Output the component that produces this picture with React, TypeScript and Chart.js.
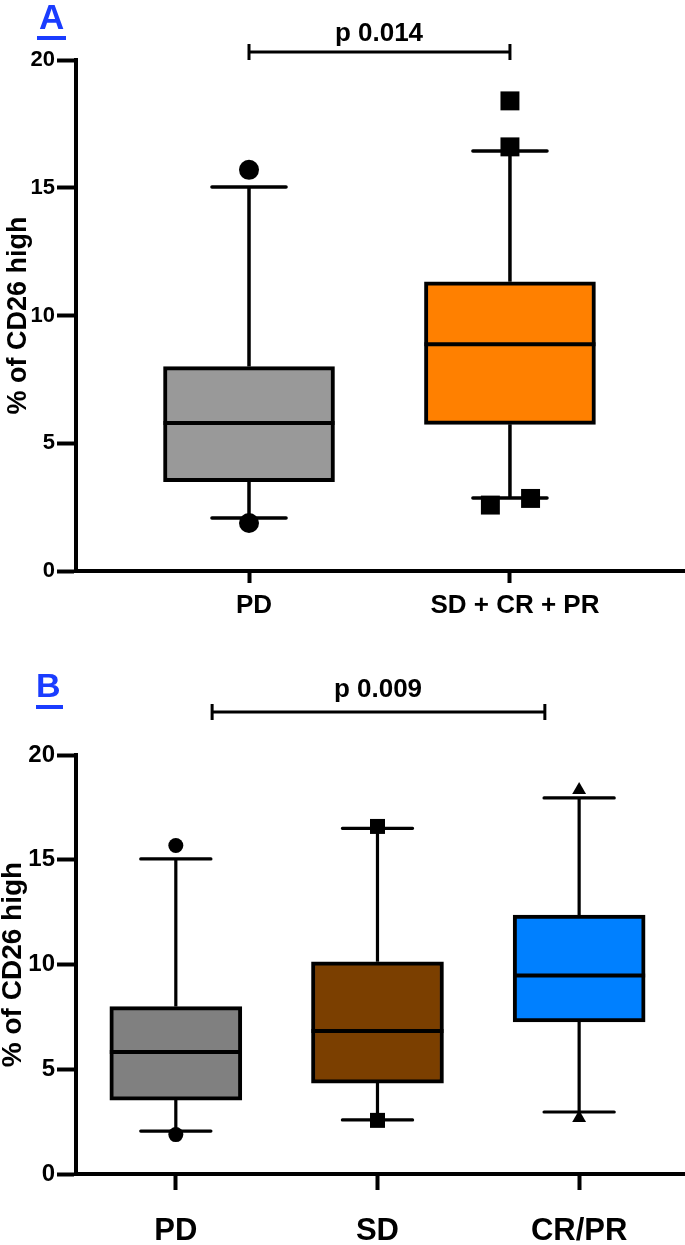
import React, { useEffect, useRef } from 'react';
import { Chart, registerables } from 'chart.js';

Chart.register(...registerables);

const FONT = '"Liberation Sans", Arial, Helvetica, sans-serif';
const BLUE = '#1a3cff';

// ---------- Panel A data ----------
const catsA = ['PD', 'SD + CR + PR'];
const q1A = [3.5, 5.74];
const medA = [5.79, 8.87];
const q3A = [8.0, 11.32];
const loA = [2.07, 2.86];
const hiA = [15.03, 16.44];
const colorsA = ['#999999', '#FF8000'];
const outlierPdA = [15.7, 1.88];
const outlierGrpA = [18.4, 16.6, 2.58, 2.84];
const outlierGrpJitterA = [0, 0, -0.075, 0.079];
const pValueA = 'p 0.014';

// ---------- Panel B data ----------
const catsB = ['PD', 'SD', 'CR/PR'];
const q1B = [3.53, 4.34, 7.26];
const medB = [5.82, 6.83, 9.48];
const q3B = [7.99, 10.13, 12.36];
const loB = [2.05, 2.58, 2.96];
const hiB = [15.04, 16.5, 17.95];
const colorsB = ['#808080', '#7B3F00', '#0080FF'];
const outlierPdB = [15.68, 1.88];
const outlierSdB = [16.59, 2.56];
const outlierCrB = [18.33, 2.67];
const pValueB = 'p 0.009';

const yTickValues = [0, 5, 10, 15, 20];
const yTitle = '% of CD26 high';

type Spec = {
  cats: string[];
  q1: number[];
  med: number[];
  q3: number[];
  lo: number[];
  hi: number[];
  colors: string[];
  outliers: { data: { x: number; y: number }[]; style: string; r: number }[];
  xMin: number;
  xMax: number;
  barPx: number;
  capHalf: number;
  boxW: number;
  whiskerW: number;
  padTop: number;
  xAxisH: number;
  xTickLen: number;
  catFont: number;
  catPad: number;
  catOffset: number;
  yFont: number;
  titleFont: number;
  titleLH: number;
  titlePad: number;
  bracket: { from: number; to: number; py: number };
};

function makePlugin(s: Spec) {
  return {
    id: 'boxWhisker',
    beforeDatasetsDraw(chart: any) {
      const { ctx } = chart;
      const x = chart.scales.x;
      const y = chart.scales.y;
      ctx.save();
      ctx.strokeStyle = '#000';
      s.cats.forEach((_, i) => {
        const px = x.getPixelForValue(i + 1);
        ctx.lineWidth = s.whiskerW;
        ctx.lineCap = 'butt';
        ctx.beginPath();
        ctx.moveTo(px, y.getPixelForValue(s.q3[i]));
        ctx.lineTo(px, y.getPixelForValue(s.hi[i]));
        ctx.moveTo(px, y.getPixelForValue(s.q1[i]));
        ctx.lineTo(px, y.getPixelForValue(s.lo[i]));
        ctx.stroke();
        ctx.lineCap = 'round';
        const cl = x.getPixelForValue(i + 1 - s.capHalf);
        const cr = x.getPixelForValue(i + 1 + s.capHalf);
        ctx.beginPath();
        [s.hi[i], s.lo[i]].forEach((v) => {
          const py = y.getPixelForValue(v);
          ctx.moveTo(cl, py);
          ctx.lineTo(cr, py);
        });
        ctx.stroke();
      });
      // significance bracket
      const bl = x.getPixelForValue(s.bracket.from);
      const br = x.getPixelForValue(s.bracket.to);
      const by = s.bracket.py;
      ctx.lineWidth = 3;
      ctx.lineCap = 'butt';
      ctx.beginPath();
      ctx.moveTo(bl, by);
      ctx.lineTo(br, by);
      ctx.moveTo(bl, by - 8);
      ctx.lineTo(bl, by + 8);
      ctx.moveTo(br, by - 8);
      ctx.lineTo(br, by + 8);
      ctx.stroke();
      ctx.restore();
    },
    afterDatasetsDraw(chart: any) {
      const { ctx } = chart;
      const y = chart.scales.y;
      let barMeta: any = null;
      chart.data.datasets.forEach((d: any, i: number) => {
        if (d.type === 'bar') barMeta = chart.getDatasetMeta(i);
      });
      if (!barMeta) return;
      ctx.save();
      ctx.strokeStyle = '#000';
      ctx.lineWidth = s.boxW;
      ctx.lineCap = 'butt';
      s.cats.forEach((_, i) => {
        const el = barMeta.data[i];
        const { x: bx, width } = el.getProps(['x', 'width'], true);
        const py = y.getPixelForValue(s.med[i]);
        ctx.beginPath();
        ctx.moveTo(bx - width / 2, py);
        ctx.lineTo(bx + width / 2, py);
        ctx.stroke();
      });
      ctx.restore();
    },
  };
}

function makeConfig(s: Spec): any {
  const scatterSets = s.outliers.map((o) => ({
    type: 'scatter',
    data: o.data,
    pointStyle: o.style,
    pointRadius: o.r,
    pointHoverRadius: o.r,
    backgroundColor: '#000',
    borderColor: '#000',
    borderWidth: 0,
    order: 0,
  }));
  return {
    type: 'bar',
    data: {
      datasets: [
        ...scatterSets,
        {
          type: 'bar',
          data: s.cats.map((_, i) => ({ x: i + 1, y: [s.q1[i], s.q3[i]] })),
          backgroundColor: s.colors,
          borderColor: '#000',
          borderWidth: s.boxW,
          borderSkipped: false,
          barThickness: s.barPx,
          order: 1,
        },
      ],
    },
    options: {
      responsive: false,
      animation: false,
      devicePixelRatio: 1,
      events: [],
      layout: { autoPadding: false, padding: { top: s.padTop, right: 1, left: 0, bottom: 0 } },
      plugins: {
        legend: { display: false },
        tooltip: { enabled: false },
        title: { display: false },
      },
      scales: {
        x: {
          type: 'linear',
          min: s.xMin,
          max: s.xMax,
          offset: false,
          afterBuildTicks: (sc: any) => {
            sc.ticks = s.cats.map((_, i) => ({ value: i + 1 }));
          },
          afterFit: (sc: any) => {
            sc.height = s.xAxisH;
            sc.paddingLeft = 0;
            sc.paddingRight = 0;
          },
          ticks: {
            autoSkip: false,
            maxRotation: 0,
            minRotation: 0,
            color: '#000',
            padding: s.catPad,
            labelOffset: s.catOffset,
            font: { family: FONT, size: s.catFont, weight: 'bold' },
            callback: (v: number) => s.cats[Math.round(v) - 1] ?? '',
          },
          grid: {
            display: true,
            offset: false,
            drawOnChartArea: false,
            drawTicks: true,
            tickLength: s.xTickLen,
            tickWidth: 4,
            tickColor: '#000',
          },
          border: { display: true, color: '#000', width: 4 },
        },
        y: {
          type: 'linear',
          min: 0,
          max: 20,
          afterBuildTicks: (sc: any) => {
            sc.ticks = yTickValues.map((v) => ({ value: v }));
          },
          afterFit: (sc: any) => {
            sc.width = 76;
          },
          ticks: {
            color: '#000',
            padding: 2,
            font: { family: FONT, size: s.yFont, weight: 'bold' },
          },
          grid: {
            display: true,
            drawOnChartArea: false,
            drawTicks: true,
            tickLength: 19,
            tickWidth: 4,
            tickColor: '#000',
          },
          border: { display: true, color: '#000', width: 4 },
          title: {
            display: true,
            text: yTitle,
            color: '#000',
            font: { family: FONT, size: s.titleFont, weight: 'bold', lineHeight: s.titleLH },
            padding: { top: s.titlePad, bottom: 0 },
          },
        },
      },
    },
    plugins: [makePlugin(s)],
  };
}

const specA: Spec = {
  cats: catsA,
  q1: q1A,
  med: medA,
  q3: q3A,
  lo: loA,
  hi: hiA,
  colors: colorsA,
  outliers: [
    { data: outlierPdA.map((v) => ({ x: 1, y: v })), style: 'circle', r: 10 },
    {
      data: outlierGrpA.map((v, i) => ({ x: 2 + outlierGrpJitterA[i], y: v })),
      style: 'rect',
      r: 13.4,
    },
  ],
  xMin: 0.337,
  xMax: 2.667,
  barPx: 171,
  capHalf: 0.142,
  boxW: 4,
  whiskerW: 3.5,
  padTop: 60,
  xAxisH: 69,
  xTickLen: 12,
  catFont: 26,
  catPad: 7,
  catOffset: 5,
  yFont: 22,
  titleFont: 27,
  titleLH: 1.2,
  titlePad: 2,
  bracket: { from: 1, to: 2, py: 52 },
};

const specB: Spec = {
  cats: catsB,
  q1: q1B,
  med: medB,
  q3: q3B,
  lo: loB,
  hi: hiB,
  colors: colorsB,
  outliers: [
    { data: outlierPdB.map((v) => ({ x: 1, y: v })), style: 'circle', r: 7.5 },
    { data: outlierSdB.map((v) => ({ x: 2, y: v })), style: 'rect', r: 10.6 },
    { data: outlierCrB.map((v) => ({ x: 3, y: v })), style: 'triangle', r: 8 },
  ],
  xMin: 0.505,
  xMax: 3.52,
  barPx: 132,
  capHalf: 0.174,
  boxW: 4,
  whiskerW: 3.2,
  padTop: 115,
  xAxisH: 71,
  xTickLen: 16,
  catFont: 31,
  catPad: 23,
  catOffset: 0,
  yFont: 24,
  titleFont: 28,
  titleLH: 0.95,
  titlePad: 0,
  bracket: { from: 1.18, to: 2.83, py: 72 },
};

function BoxChart({ spec, width, height }: { spec: Spec; width: number; height: number }) {
  const ref = useRef<HTMLCanvasElement | null>(null);
  useEffect(() => {
    if (!ref.current) return;
    const chart = new Chart(ref.current, makeConfig(spec));
    return () => chart.destroy();
  }, [spec]);
  return (
    <canvas
      ref={ref}
      width={width}
      height={height}
      style={{ display: 'block', width: `${width}px`, height: `${height}px` }}
    />
  );
}

const textBase: React.CSSProperties = {
  position: 'absolute',
  fontFamily: FONT,
  fontWeight: 'bold',
  whiteSpace: 'nowrap',
  margin: 0,
};

export default function App() {
  return (
    <div
      style={{
        position: 'absolute',
        left: 0,
        top: 0,
        width: 685,
        height: 1245,
        background: '#fff',
        overflow: 'hidden',
      }}
    >
      <div style={{ position: 'absolute', left: 0, top: 0 }}>
        <BoxChart spec={specA} width={685} height={640} />
      </div>
      <div style={{ position: 'absolute', left: 0, top: 640 }}>
        <BoxChart spec={specB} width={685} height={605} />
      </div>

      {/* Panel A annotations */}
      <div style={{ ...textBase, left: 39, top: -1, fontSize: 35, lineHeight: '35px', color: BLUE }}>A</div>
      <div style={{ position: 'absolute', left: 37, top: 36, width: 29, height: 4, background: BLUE }} />
      <div
        style={{
          ...textBase,
          left: 379,
          top: 19,
          fontSize: 26,
          lineHeight: '26px',
          color: '#000',
          transform: 'translateX(-50%)',
        }}
      >
        {pValueA}
      </div>

      {/* Panel B annotations */}
      <div style={{ ...textBase, left: 36, top: 668, fontSize: 34, lineHeight: '34px', color: BLUE }}>B</div>
      <div style={{ position: 'absolute', left: 36, top: 705, width: 27, height: 4, background: BLUE }} />
      <div
        style={{
          ...textBase,
          left: 378,
          top: 675,
          fontSize: 26,
          lineHeight: '26px',
          color: '#000',
          transform: 'translateX(-50%)',
        }}
      >
        {pValueB}
      </div>
    </div>
  );
}
